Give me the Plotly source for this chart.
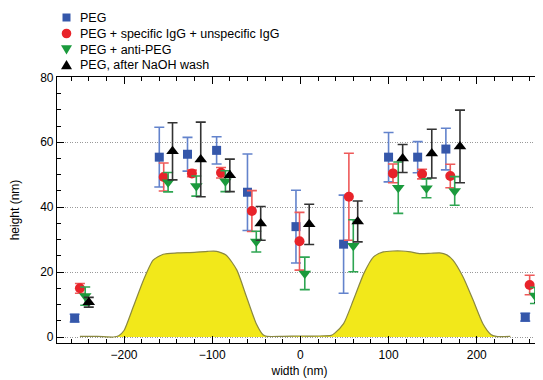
import plotly.graph_objects as go

# Surface profile (yellow)
profile_x = [-250, -230, -212, -206, -200, -189.5, -178, -167, -155.5, -140, -120, -105, -95, -84, -72, -61,
             -50, -42, -38, -20, 0, 20, 35, 39, 49, 60, 72, 83, 94, 105, 115, 125, 136, 148, 158, 166, 173,
             184.5, 196, 207, 216, 222, 238]
profile_y = [0.2, 0.2, 0.0, 0.4, 2.0, 9.3, 17.5, 23.7, 25.5, 25.9, 26.1, 26.4, 26.4, 25.2, 20.6, 12.3,
             4.1, 0.6, 0.2, 0.2, 0.3, 0.3, 0.5, 1.2, 4.1, 11.3, 19.6, 24.7, 26.2, 26.5, 26.5, 26.2, 25.7,
             25.8, 25.9, 25.3, 23.7, 18.5, 11.3, 4.1, 0.8, 0.2, 0.2]

# PEG
peg_x = [-256, -160, -128, -95, -60, -5, 49, 100, 133, 165, 255]
peg_y = [5.8, 55.4, 56.3, 57.5, 44.6, 34.0, 28.6, 55.4, 55.4, 57.9, 6.1]
peg_e = [1.2, 9.2, 5.2, 4.2, 11.8, 11.2, 15.1, 7.6, 4.8, 6.4, 1.2]

# PEG + specific IgG + unspecific IgG
igg_x = [-250, -155, -123, -90, -55, -1, 55, 105, 138, 170, 260]
igg_y = [15.0, 49.3, 50.4, 50.6, 38.8, 29.5, 43.2, 50.4, 50.2, 49.6, 16.0]
igg_e = [1.5, 4.3, 1.0, 1.6, 6.3, 8.9, 13.4, 2.9, 1.5, 3.6, 3.0]

# PEG + anti-PEG
anti_x = [-244, -150, -118, -85, -50, 5, 60, 111, 143, 175, 266]
anti_y = [12.6, 47.7, 46.5, 48.0, 29.4, 19.6, 28.1, 46.0, 45.8, 45.0, 12.8]
anti_e = [2.8, 3.0, 3.1, 3.2, 3.2, 5.0, 8.0, 7.9, 2.9, 4.4, 2.5]

# PEG, after NaOH wash
naoh_x = [-240, -145, -113, -80, -45, 10, 65, 116, 149, 181, 272]
naoh_y = [10.7, 57.2, 54.7, 49.8, 35.0, 34.7, 35.6, 55.0, 56.5, 58.7, 11.3]
naoh_e = [1.5, 8.8, 11.5, 5.0, 5.2, 6.2, 6.3, 4.3, 7.5, 11.2, 1.5]

series_names = ["PEG", "PEG + specific IgG + unspecific IgG", "PEG + anti-PEG", "PEG, after NaOH wash"]
series_colors = ["#3557AA", "#E8232A", "#1A9A3C", "#000000"]
error_colors = ["#6383CC", "#EE5A5A", "#2EA552", "#333333"]
series_symbols = ["square", "circle", "triangle-down", "triangle-up"]

# page body has an 8px margin, so the figure is 8px smaller and everything is offset by 8px
OFF = 8
W, H = 543 - OFF, 380 - OFF
ML, MR, MT, MB = 57 - OFF, 1, 77 - OFF, 37
PW, PH = W - ML - MR, H - MT - MB

fig = go.Figure()

fig.add_trace(go.Scatter(
    x=profile_x, y=profile_y, mode="lines", fill="tozeroy",
    fillcolor="#F2E81A", line=dict(color="#8A8840", width=1.2, shape="spline", smoothing=0.6),
    showlegend=False, hoverinfo="skip"))

data = [(peg_x, peg_y, peg_e, 9), (igg_x, igg_y, igg_e, 10), (anti_x, anti_y, anti_e, 11), (naoh_x, naoh_y, naoh_e, 11)]
for i, (x, y, e, size) in enumerate(data):
    fig.add_trace(go.Scatter(
        x=x, y=y, mode="markers", name=series_names[i], showlegend=False,
        marker=dict(symbol=series_symbols[i], color=series_colors[i], size=size, line=dict(width=0)),
        error_y=dict(type="data", array=e, visible=True, color=error_colors[i], thickness=1.6, width=5)))

# manual legend (paper coordinates from pixel positions in the screenshot)
def px2x(px):
    return (px - OFF - ML) / PW

def py2y(py):
    return (H - MB - (py - OFF)) / PH

leg_mx, leg_tx = 66.5, 78
leg_rows = [17.5, 33.5, 49.5, 65]
shapes = []
for i, row in enumerate(leg_rows):
    cx, cy = leg_mx, row
    sym = series_symbols[i]
    col = series_colors[i]
    if sym == "square":
        shapes.append(dict(type="rect", xref="paper", yref="paper",
                           x0=px2x(cx - 4), x1=px2x(cx + 4), y0=py2y(cy + 4), y1=py2y(cy - 4),
                           fillcolor=col, line=dict(width=0)))
    elif sym == "circle":
        shapes.append(dict(type="circle", xref="paper", yref="paper",
                           x0=px2x(cx - 4.8), x1=px2x(cx + 4.8), y0=py2y(cy + 4.8), y1=py2y(cy - 4.8),
                           fillcolor=col, line=dict(width=0)))
    elif sym == "triangle-down":
        path = "M {:.5f},{:.5f} L {:.5f},{:.5f} L {:.5f},{:.5f} Z".format(
            px2x(cx - 5.5), py2y(cy - 4.2), px2x(cx + 5.5), py2y(cy - 4.2), px2x(cx), py2y(cy + 5))
        shapes.append(dict(type="path", xref="paper", yref="paper", path=path, fillcolor=col, line=dict(width=0)))
    else:
        path = "M {:.5f},{:.5f} L {:.5f},{:.5f} L {:.5f},{:.5f} Z".format(
            px2x(cx - 5.5), py2y(cy + 4.2), px2x(cx + 5.5), py2y(cy + 4.2), px2x(cx), py2y(cy - 5))
        shapes.append(dict(type="path", xref="paper", yref="paper", path=path, fillcolor=col, line=dict(width=0)))

annotations = [dict(text=series_names[i], xref="paper", yref="paper", x=px2x(leg_tx), y=py2y(row),
                    xanchor="left", yanchor="middle", showarrow=False, font=dict(size=12.5, color="black"))
               for i, row in enumerate(leg_rows)]

axis_common = dict(
    showline=True, linecolor="black", linewidth=1.2, mirror="ticks",
    ticks="inside", ticklen=7, tickwidth=1, tickcolor="black",
    zeroline=False, tickfont=dict(size=12, color="black"), automargin=False,
)

fig.update_xaxes(
    range=[-276, 274], tick0=0, dtick=100, showgrid=False,
    minor=dict(dtick=20, ticks="inside", ticklen=4, tickcolor="black", showgrid=False),
    title=dict(text="width (nm)", font=dict(size=12, color="black"), standoff=6),
    **axis_common)
fig.update_yaxes(
    range=[-1.85, 80.1], tick0=0, dtick=20, showgrid=True, gridcolor="#9a9a9a", griddash="1px,1.5px", gridwidth=1,
    minor=dict(dtick=5, ticks="inside", ticklen=4, tickcolor="black", showgrid=False),
    title=dict(text="height (nm)", font=dict(size=12, color="black"), standoff=19),
    **axis_common)

fig.update_layout(
    width=W, height=H,
    margin=dict(l=ML, r=MR, t=MT, b=MB, autoexpand=False),
    paper_bgcolor="white", plot_bgcolor="white",
    font=dict(family="Liberation Sans, Arial, Helvetica, sans-serif", size=12, color="black"),
    shapes=shapes, annotations=annotations, showlegend=False,
)

fig.write_html("out.html")
